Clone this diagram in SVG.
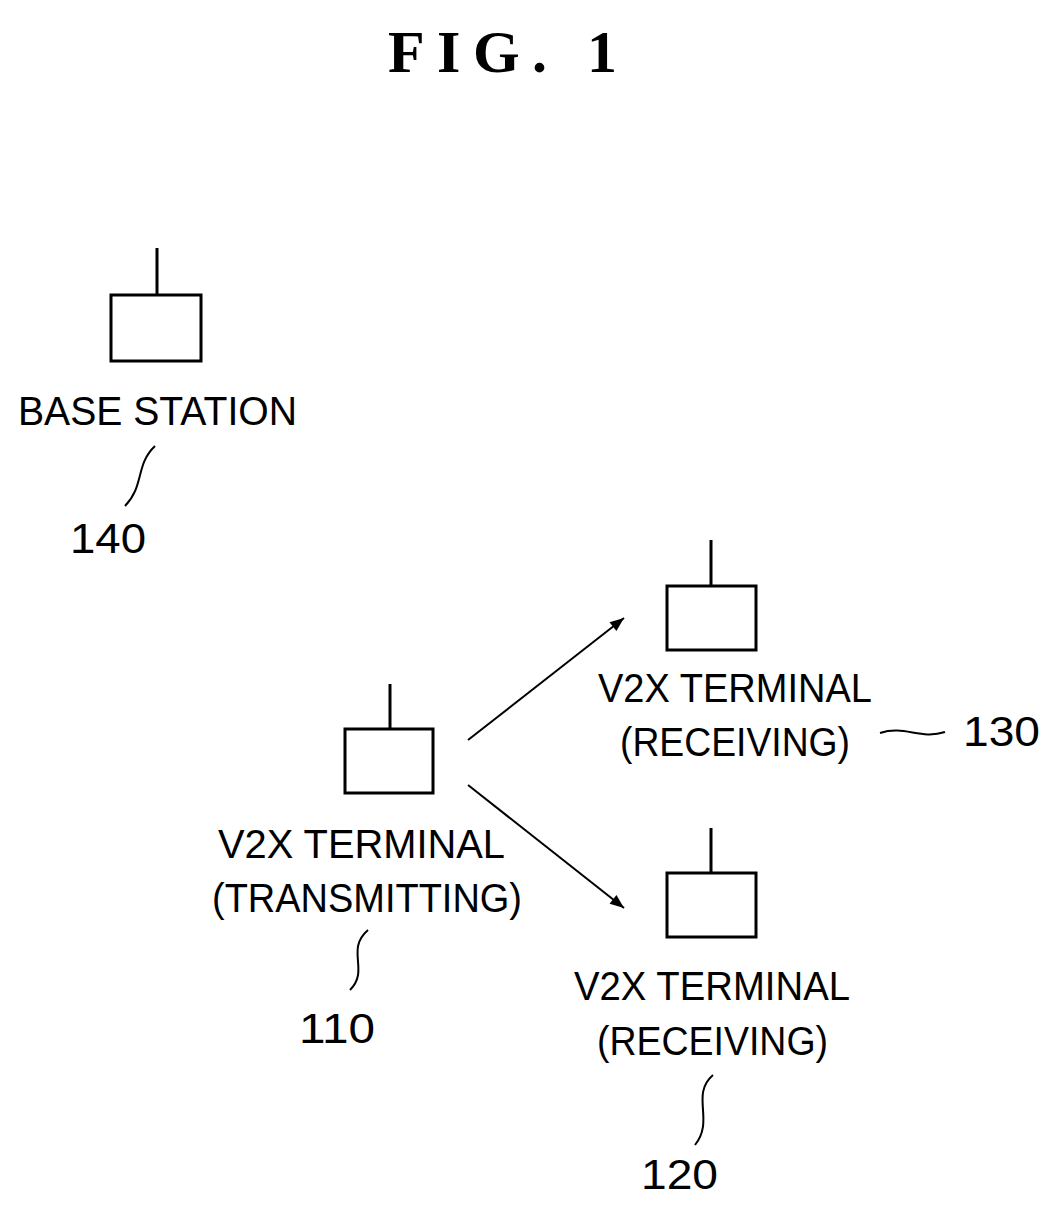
<svg xmlns="http://www.w3.org/2000/svg" width="1058" height="1209" viewBox="0 0 1058 1209">
<style>
.l{fill:none;stroke:#000;stroke-width:3}
.t{font-family:"Liberation Sans",Arial,sans-serif;font-size:40px;fill:#000}
.n{font-family:"Liberation Sans",Arial,sans-serif;font-size:42px;fill:#000}
.m{text-anchor:middle}
</style>
<defs><marker id="a" viewBox="0 0 10 10" refX="10" refY="5" markerWidth="11" markerHeight="7" markerUnits="strokeWidth" orient="auto"><path d="M0,1 L10,5 L0,9 z" fill="#000"/></marker></defs>
<rect width="1058" height="1209" fill="#fff"/>
<text x="388" y="72" textLength="229" lengthAdjust="spacing" style="font-family:'Liberation Serif',serif;font-size:60px;font-weight:bold">FIG.  1</text>
<g id="n140"><path class="l" d="M157,248V295"/><rect class="l" x="111" y="295" width="90" height="66"/>
<text class="t" x="18" y="425" textLength="279" lengthAdjust="spacingAndGlyphs">BASE STATION</text>
<path class="l" style="stroke-width:2" d="M155,446 C135,465 145,485 125,506"/><text class="n" x="70" y="553" textLength="76" lengthAdjust="spacingAndGlyphs">140</text></g>
<g id="n110"><path class="l" d="M390,684V729"/><rect class="l" x="345" y="729" width="88" height="64"/>
<text class="t" x="218" y="858" textLength="287" lengthAdjust="spacingAndGlyphs">V2X TERMINAL</text>
<text class="t" x="212" y="912" textLength="310" lengthAdjust="spacingAndGlyphs">(TRANSMITTING)</text>
<path class="l" style="stroke-width:2" d="M368,930 C345,950 370,970 350,990"/><text class="n" x="299" y="1043" textLength="76" lengthAdjust="spacingAndGlyphs">110</text></g>
<g id="n130"><path class="l" d="M711,540V586"/><rect class="l" x="667" y="586" width="89" height="64"/>
<text class="t" x="598" y="702" textLength="274" lengthAdjust="spacingAndGlyphs">V2X TERMINAL</text>
<text class="t" x="620" y="756" textLength="230" lengthAdjust="spacingAndGlyphs">(RECEIVING)</text>
<path class="l" style="stroke-width:2" d="M880,733 C905,725 920,740 945,732"/><text class="n" x="963" y="746" textLength="77" lengthAdjust="spacingAndGlyphs">130</text></g>
<g id="n120"><path class="l" d="M711,828V873"/><rect class="l" x="667" y="873" width="89" height="64"/>
<text class="t" x="574" y="1000" textLength="276" lengthAdjust="spacingAndGlyphs">V2X TERMINAL</text>
<text class="t" x="597" y="1055" textLength="231" lengthAdjust="spacingAndGlyphs">(RECEIVING)</text>
<path class="l" style="stroke-width:2" d="M713,1075 C690,1095 715,1120 695,1145"/><text class="n" x="641" y="1189" textLength="77" lengthAdjust="spacingAndGlyphs">120</text></g>
<g id="connectors"><path class="l" style="stroke-width:2" marker-end="url(#a)" d="M468,740L624,618"/>
<path class="l" style="stroke-width:2" marker-end="url(#a)" d="M468,785L624,908"/></g>
</svg>
